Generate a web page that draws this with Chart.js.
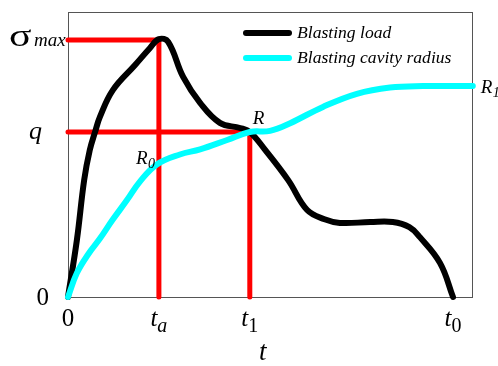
<!DOCTYPE html>
<html>
<head>
<meta charset="utf-8">
<script src="https://cdn.jsdelivr.net/npm/chart.js@4"></script>
<style>
  html, body { margin: 0; padding: 0; background: #fff; }
  #wrap { width: 498px; height: 366px; }
</style>
</head>
<body>
<div id="wrap"><canvas id="c" width="498" height="366"></canvas></div>
<script>
// key levels / times (x: 0..100, y: 0..100)
const tA = 22.5, t1 = 45, t0 = 95.3;
const sigmaMax = 90.2, qLevel = 57.9;

// Blasting load curve
const loadX = [0, 2.2, 4.0, 5.4, 6.7, 7.9, 11.1, 16.6, 20.3, 22.5, 24.8, 28.5, 32.7, 37.6, 42.6, 45, 48.8, 54.5, 59.2, 63.5, 67.3, 74.8, 80.4, 84.5, 87.1, 92.1, 95.3];
const loadY = [0, 20, 41, 51.6, 57.9, 63.2, 72.6, 81.4, 87.4, 90.5, 89.5, 77.2, 68.1, 61.1, 59.3, 57.9, 51.6, 41, 30.5, 27.3, 26, 26.3, 26.3, 24.5, 21, 11.9, 0];

// Blasting cavity radius curve
const radiusX = [0, 2.2, 5, 7.9, 11, 14.6, 17.8, 22, 27.7, 32.7, 39.4, 45, 50, 55, 63.1, 71.5, 79.7, 87.9, 100.2];
const radiusY = [0, 8.4, 15, 20.5, 27, 34, 40.5, 46.5, 50, 51.8, 55.1, 57.9, 58.3, 61, 66.7, 71.3, 73.5, 74, 74];

// tick labels: [value, main text, subscript]
const xTicks = [[0, '0', ''], [tA, 't', 'a'], [t1, 't', '1'], [t0, 't', '0']];

const pts = (xs, ys) => xs.map((x, i) => ({ x: x, y: ys[i] }));

const serif = '"Liberation Serif", "Times New Roman", serif';

const decor = {
  id: 'decor',
  beforeDatasetsDraw(chart) {
    const { ctx, chartArea: a } = chart;
    ctx.save();
    ctx.strokeStyle = '#555';
    ctx.lineWidth = 1;
    ctx.strokeRect(a.left + 0.5, a.top + 0.5, a.right - a.left, a.bottom - a.top);
    ctx.restore();
  },
  afterDraw(chart) {
    const { ctx, scales: { x, y } } = chart;
    ctx.save();
    ctx.fillStyle = '#000';
    ctx.textBaseline = 'alphabetic';

    // x tick labels
    xTicks.forEach(([v, main, sub]) => {
      const px = x.getPixelForValue(v);
      ctx.font = (main === '0' ? '' : 'italic ') + '25px ' + serif;
      const w1 = ctx.measureText(main).width;
      ctx.font = 'italic 20px ' + serif;
      const w2 = sub ? ctx.measureText(sub).width : 0;
      const start = px - (w1 + w2) / 2;
      ctx.font = (main === '0' ? '' : 'italic ') + '25px ' + serif;
      ctx.textAlign = 'left';
      ctx.fillText(main, start, 326);
      if (sub) {
        ctx.font = (/\d/.test(sub) ? '' : 'italic ') + '20px ' + serif;
        ctx.fillText(sub, start + w1, 332);
      }
    });
    // axis title
    ctx.font = 'italic 27px ' + serif;
    ctx.textAlign = 'center';
    ctx.fillText('t', x.getPixelForValue(t1) + 13, 360);

    // y tick labels
    ctx.textAlign = 'right';
    ctx.font = '25px ' + serif;
    ctx.fillText('0', 49, y.getPixelForValue(0) + 8);
    ctx.font = 'italic 26px ' + serif;
    ctx.fillText('q', 42, y.getPixelForValue(qLevel) + 7);
    const sy = y.getPixelForValue(sigmaMax) + 6;
    ctx.textAlign = 'left';
    ctx.save();
    ctx.translate(9, sy);
    ctx.scale(1.35, 1);
    ctx.font = '31px ' + serif;
    ctx.fillText('σ', 0, 0);
    ctx.restore();
    ctx.font = 'italic 19px ' + serif;
    ctx.fillText('max', 34, sy);

    // point labels
    ctx.font = 'italic 19px ' + serif;
    ctx.fillText('R', x.getPixelForValue(t1) + 3, y.getPixelForValue(qLevel) - 8);
    ctx.fillText('R', 136, 164);
    ctx.font = 'italic 14px ' + serif;
    ctx.fillText('0', 148, 168);
    const ex = x.getPixelForValue(radiusX[radiusX.length - 1]);
    const ey = y.getPixelForValue(radiusY[radiusY.length - 1]);
    ctx.font = 'italic 19px ' + serif;
    ctx.fillText('R', ex + 8, ey + 7);
    ctx.font = 'italic 14px ' + serif;
    ctx.fillText('1', ex + 20, ey + 11);

    // legend
    const items = chart.data.datasets.filter(d => d.label);
    items.forEach((d, i) => {
      const ly = 33 + i * 25;
      ctx.strokeStyle = d.borderColor;
      ctx.lineWidth = 6;
      ctx.lineCap = 'round';
      ctx.beginPath();
      ctx.moveTo(246, ly);
      ctx.lineTo(289, ly);
      ctx.stroke();
      ctx.font = 'italic 17.6px ' + serif;
      ctx.textAlign = 'left';
      ctx.fillText(d.label, 297, ly + 5);
    });
    ctx.restore();
  }
};

new Chart(document.getElementById('c'), {
  type: 'scatter',
  data: {
    datasets: [
      {
        label: 'Blasting load',
        data: pts(loadX, loadY),
        borderColor: '#000000',
        borderWidth: 6,
        showLine: true,
        pointRadius: 0,
        tension: 0.4,
        borderCapStyle: 'round',
        borderJoinStyle: 'round',
        clip: false,
        order: 1
      },
      {
        label: 'Blasting cavity radius',
        data: pts(radiusX, radiusY),
        borderColor: '#00ffff',
        borderWidth: 6,
        showLine: true,
        pointRadius: 0,
        tension: 0.4,
        borderCapStyle: 'round',
        borderJoinStyle: 'round',
        clip: false,
        order: 0
      },
      {
        data: [{ x: 0, y: sigmaMax }, { x: tA, y: sigmaMax }, { x: tA, y: 0 }],
        borderColor: '#ff0000',
        borderWidth: 5,
        showLine: true,
        pointRadius: 0,
        tension: 0,
        borderCapStyle: 'round',
        clip: false,
        order: 3
      },
      {
        data: [{ x: 0, y: qLevel }, { x: t1, y: qLevel }, { x: t1, y: 0 }],
        borderColor: '#ff0000',
        borderWidth: 5,
        showLine: true,
        pointRadius: 0,
        tension: 0,
        borderCapStyle: 'round',
        clip: false,
        order: 3
      }
    ]
  },
  options: {
    responsive: false,
    animation: false,
    layout: { padding: { left: 68, top: 12, right: 26, bottom: 69 } },
    scales: {
      x: { type: 'linear', min: 0, max: 100, display: false },
      y: { type: 'linear', min: 0, max: 100, display: false }
    },
    plugins: {
      legend: { display: false },
      tooltip: { enabled: false }
    }
  },
  plugins: [decor]
});
</script>
</body>
</html>
